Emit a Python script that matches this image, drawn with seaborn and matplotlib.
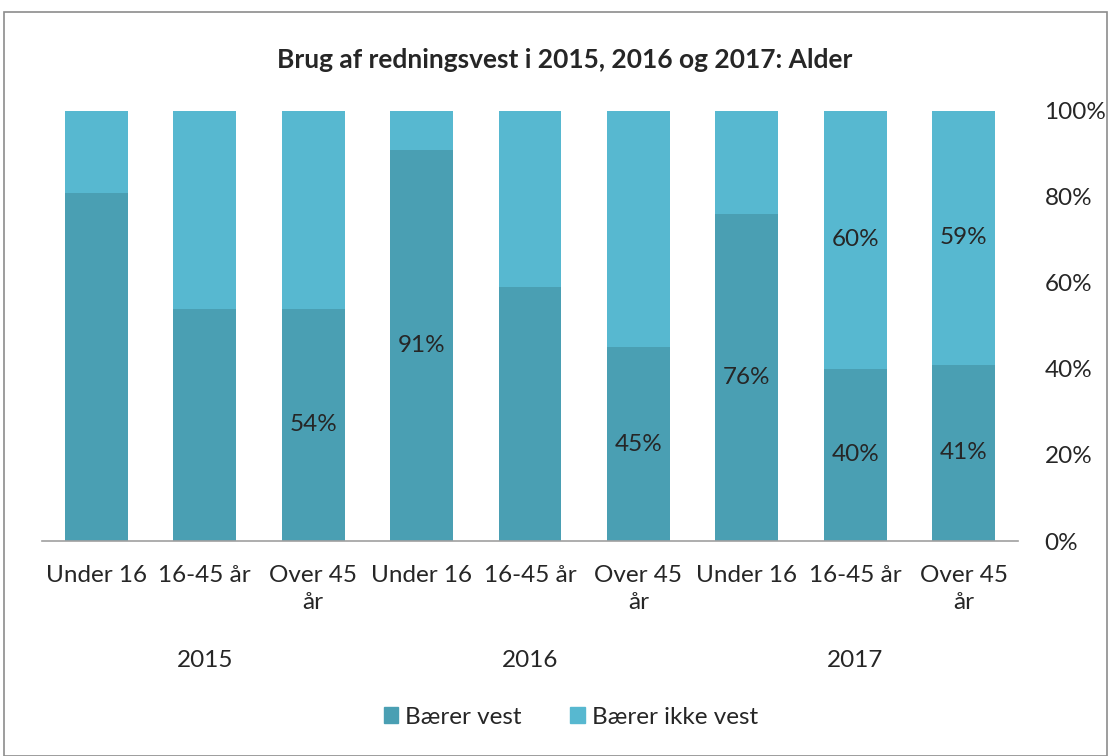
import pandas as pd
import numpy as np
import matplotlib
matplotlib.use('Agg')
import matplotlib.pyplot as plt
import seaborn as sns

years = ['2015', '2016', '2017']
ages = ['Under 16', '16-45 år', 'Over 45\når']
baerer_vest = [81, 54, 54, 91, 59, 45, 76, 40, 41]
baerer_ikke = [19, 46, 46, 9, 41, 55, 24, 60, 59]
# which data labels are shown in the original (vest, ikke vest)
show_vest = [False, False, True, True, False, True, True, True, True]
show_ikke = [False, False, False, False, False, False, False, True, True]

sns.set_style('white')
plt.rcParams['font.family'] = ['Lato', 'DejaVu Sans']

keys = [y + '|' + a for y in years for a in ages]
df = pd.DataFrame({'key': keys, 'vest': baerer_vest,
                   'total': np.array(baerer_vest) + np.array(baerer_ikke)})

dark = '#4a9fb3'
light = '#57b8d0'
fs = 17.5

fig = plt.figure(figsize=(11.1, 7.56), dpi=100)
ax = fig.add_axes([42/1110, 215/756, 976/1110, 430/756])
sns.barplot(data=df, x='key', y='total', color=light, width=0.58, ax=ax, saturation=1, linewidth=0)
sns.barplot(data=df, x='key', y='vest', color=dark, width=0.58, ax=ax, saturation=1, linewidth=0)

for i in range(len(keys)):
    if show_vest[i]:
        ax.text(i, baerer_vest[i] / 2, f'{baerer_vest[i]}%', ha='center', va='center', fontsize=fs)
    if show_ikke[i]:
        ax.text(i, baerer_vest[i] + baerer_ikke[i] / 2, f'{baerer_ikke[i]}%', ha='center', va='center', fontsize=fs)

ax.set_ylim(0, 100)
ax.set_xlim(-0.5, len(keys) - 0.5)
ax.yaxis.tick_right()
ax.set_yticks(range(0, 101, 20))
ax.set_yticklabels([f'{v}%' for v in range(0, 101, 20)], fontsize=fs)
ax.tick_params(axis='y', length=0, pad=19)
ax.set_xticks(range(len(keys)))
ax.set_xticklabels(ages * 3, fontsize=fs, va='top', linespacing=1.4)
ax.tick_params(axis='x', length=0, pad=17)
ax.set_xlabel('')
ax.set_ylabel('')
for s in ['top', 'left', 'right']:
    ax.spines[s].set_visible(False)
ax.spines['bottom'].set_color('#a0a0a0')
ax.spines['bottom'].set_linewidth(1.2)

for j, y in enumerate(years):
    ax.text(j * 3 + 1, -27.7, y, ha='center', va='center', fontsize=fs,
            transform=ax.transData)

fig.text(565/1110, 1 - 60/756, 'Brug af redningsvest i 2015, 2016 og 2017: Alder',
         ha='center', va='center', fontsize=19, fontweight='bold')

handles = [plt.Rectangle((0, 0), 1, 1, color=dark), plt.Rectangle((0, 0), 1, 1, color=light)]
fig.legend(handles, ['Bærer vest', 'Bærer ikke vest'], loc='center', bbox_to_anchor=(571/1110, 1 - 717/756),
           ncol=2, frameon=False, fontsize=fs, handlelength=0.6, handleheight=0.6,
           handletextpad=0.3, columnspacing=2.0)

fig.patches.append(plt.Rectangle((4/1110, 0), 1103/1110, 1 - 12/756, transform=fig.transFigure,
                                 fill=False, edgecolor='#8c8c8c', linewidth=1.2))

fig.savefig('out.png', dpi=100)
